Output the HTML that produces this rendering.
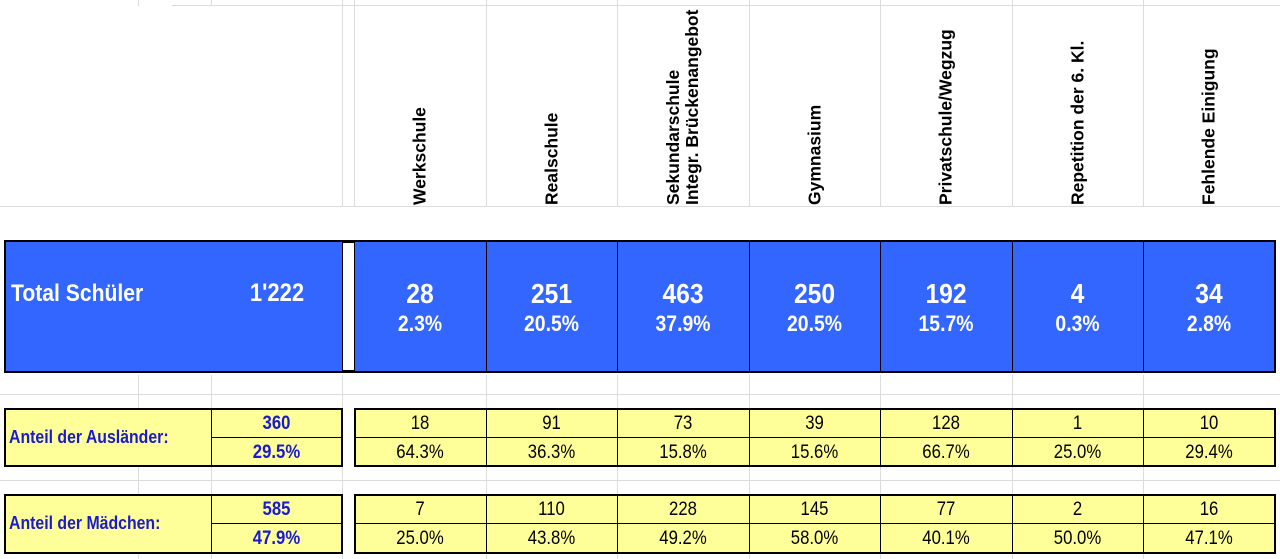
<!DOCTYPE html>
<html><head><meta charset="utf-8"><style>
body{margin:0;width:1280px;height:559px;background:#fff;position:relative;overflow:hidden;font-family:"Liberation Sans",Arial,sans-serif}
.g{position:absolute;background:#dcdcdc}
.b{position:absolute;box-sizing:border-box}
.hdr{position:absolute;top:0;height:205px;width:131px;}
.hdr span{position:absolute;left:50%;bottom:0;transform-origin:0 100%;transform:rotate(-90deg) translateY(50%);white-space:nowrap;font-weight:bold;font-size:17.5px;line-height:19px;color:#000}
.t{position:absolute;text-align:center;transform:scaleX(.88);line-height:1;white-space:nowrap}
.l{position:absolute;transform:scaleX(.88);transform-origin:0 0;line-height:1;white-space:nowrap}
</style></head><body>
<div class="g" style="left:172px;top:5px;width:1108px;height:1px"></div>
<div class="g" style="left:0;top:206px;width:1280px;height:1px"></div>
<div class="g" style="left:138px;top:0;width:1px;height:6px"></div>
<div class="g" style="left:211px;top:0;width:1px;height:6px"></div>
<div class="g" style="left:342px;top:0;width:1px;height:206px"></div>
<div class="g" style="left:354px;top:0;width:1px;height:206px"></div>
<div class="g" style="left:486px;top:0;width:1px;height:206px"></div>
<div class="g" style="left:617px;top:0;width:1px;height:206px"></div>
<div class="g" style="left:749px;top:0;width:1px;height:206px"></div>
<div class="g" style="left:880px;top:0;width:1px;height:206px"></div>
<div class="g" style="left:1012px;top:0;width:1px;height:206px"></div>
<div class="g" style="left:1143px;top:0;width:1px;height:206px"></div>
<div class="g" style="left:138px;top:375px;width:1px;height:184px"></div>
<div class="g" style="left:211px;top:375px;width:1px;height:184px"></div>
<div class="g" style="left:342px;top:375px;width:1px;height:184px"></div>
<div class="g" style="left:486px;top:375px;width:1px;height:184px"></div>
<div class="g" style="left:617px;top:375px;width:1px;height:184px"></div>
<div class="g" style="left:749px;top:375px;width:1px;height:184px"></div>
<div class="g" style="left:880px;top:375px;width:1px;height:184px"></div>
<div class="g" style="left:1012px;top:375px;width:1px;height:184px"></div>
<div class="g" style="left:1143px;top:375px;width:1px;height:184px"></div>
<div class="g" style="left:0;top:394px;width:1280px;height:1px"></div>
<div class="g" style="left:0;top:480px;width:1280px;height:1px"></div>

<div class="hdr" style="left:354px"><span>Werkschule</span></div>
<div class="hdr" style="left:486px"><span>Realschule</span></div>
<div class="hdr" style="left:617px"><span>Sekundarschule<br>Integr. Brückenangebot</span></div>
<div class="hdr" style="left:749px"><span>Gymnasium</span></div>
<div class="hdr" style="left:880px"><span>Privatschule/Wegzug</span></div>
<div class="hdr" style="left:1012px"><span>Repetition der 6. Kl.</span></div>
<div class="hdr" style="left:1143px"><span>Fehlende Einigung</span></div>

<div class="b" style="left:4px;top:240px;width:339px;height:133px;border:2px solid #000;border-right:1px solid #000;background:#3366ff"></div>
<div class="l" style="left:11px;top:282px;color:#fff;font-weight:bold;font-size:24px">Total Schüler</div>
<div class="t" style="left:222px;width:110px;top:281px;color:#fff;font-weight:bold;font-size:25px">1'222</div>
<div class="b" style="left:343px;top:240px;width:12px;height:3px;background:#000"></div>
<div class="b" style="left:343px;top:370px;width:12px;height:3px;background:#000"></div>
<div class="b" style="left:354px;top:240px;width:922px;height:133px;border:2px solid #000;border-left:1px solid #000;background:#3366ff"></div>

<div class="b" style="left:4px;top:408px;width:339px;height:59px;border:2px solid #000;background:#ffff99"></div>
<div class="b" style="left:354px;top:408px;width:922px;height:59px;border:2px solid #000;background:#ffff99"></div>
<div class="b" style="left:4px;top:494px;width:339px;height:60px;border:2px solid #000;background:#ffff99"></div>
<div class="b" style="left:354px;top:494px;width:922px;height:60px;border:2px solid #000;background:#ffff99"></div>
<div style="position:absolute;left:211px;top:408px;width:1px;height:59px;background:#000"></div>
<div style="position:absolute;left:211px;top:494px;width:1px;height:60px;background:#000"></div>
<div style="position:absolute;left:211px;top:437px;width:131px;height:1px;background:#000"></div>
<div style="position:absolute;left:211px;top:523px;width:131px;height:1px;background:#000"></div>
<div style="position:absolute;left:354px;top:437px;width:922px;height:1px;background:#000"></div>
<div style="position:absolute;left:354px;top:523px;width:922px;height:1px;background:#000"></div>
<div class="l" style="left:9px;top:428px;color:#1a1ad0;font-weight:bold;font-size:18px">Anteil der Ausländer:</div>
<div class="l" style="left:9px;top:514px;color:#1a1ad0;font-weight:bold;font-size:18px">Anteil der Mädchen:</div>
<div class="t" style="left:211px;width:131px;top:414px;color:#1a1ad0;font-weight:bold;font-size:19px">360</div>
<div class="t" style="left:211px;width:131px;top:443px;color:#1a1ad0;font-weight:bold;font-size:19px">29.5%</div>
<div class="t" style="left:211px;width:131px;top:500px;color:#1a1ad0;font-weight:bold;font-size:19px">585</div>
<div class="t" style="left:211px;width:131px;top:529px;color:#1a1ad0;font-weight:bold;font-size:19px">47.9%</div>

<div id="cols"></div>
<script>
var L=[354,486,617,749,880,1012,1143,1275];
var tot=[["28","2.3%"],["251","20.5%"],["463","37.9%"],["250","20.5%"],["192","15.7%"],["4","0.3%"],["34","2.8%"]];
var au=[["18","64.3%"],["91","36.3%"],["73","15.8%"],["39","15.6%"],["128","66.7%"],["1","25.0%"],["10","29.4%"]];
var ma=[["7","25.0%"],["110","43.8%"],["228","49.2%"],["145","58.0%"],["77","40.1%"],["2","50.0%"],["16","47.1%"]];
var h="";
for(var i=0;i<7;i++){var x=L[i],w=L[i+1]-L[i];
if(i>0){h+='<div style="position:absolute;left:'+x+'px;top:240px;width:1px;height:133px;background:#000"></div>';
h+='<div style="position:absolute;left:'+x+'px;top:408px;width:1px;height:59px;background:#000"></div>';
h+='<div style="position:absolute;left:'+x+'px;top:494px;width:1px;height:60px;background:#000"></div>';}
var s='left:'+x+'px;width:'+w+'px;';
h+='<div class="t" style="'+s+'top:280px;color:#fff;font-weight:bold;font-size:28px">'+tot[i][0]+'</div>';
h+='<div class="t" style="'+s+'top:313px;color:#fff;font-weight:bold;font-size:22px">'+tot[i][1]+'</div>';
h+='<div class="t" style="'+s+'top:414px;font-size:19px">'+au[i][0]+'</div>';
h+='<div class="t" style="'+s+'top:443px;font-size:19px">'+au[i][1]+'</div>';
h+='<div class="t" style="'+s+'top:500px;font-size:19px">'+ma[i][0]+'</div>';
h+='<div class="t" style="'+s+'top:529px;font-size:19px">'+ma[i][1]+'</div>';}
document.getElementById("cols").innerHTML=h;
</script>
</body></html>
